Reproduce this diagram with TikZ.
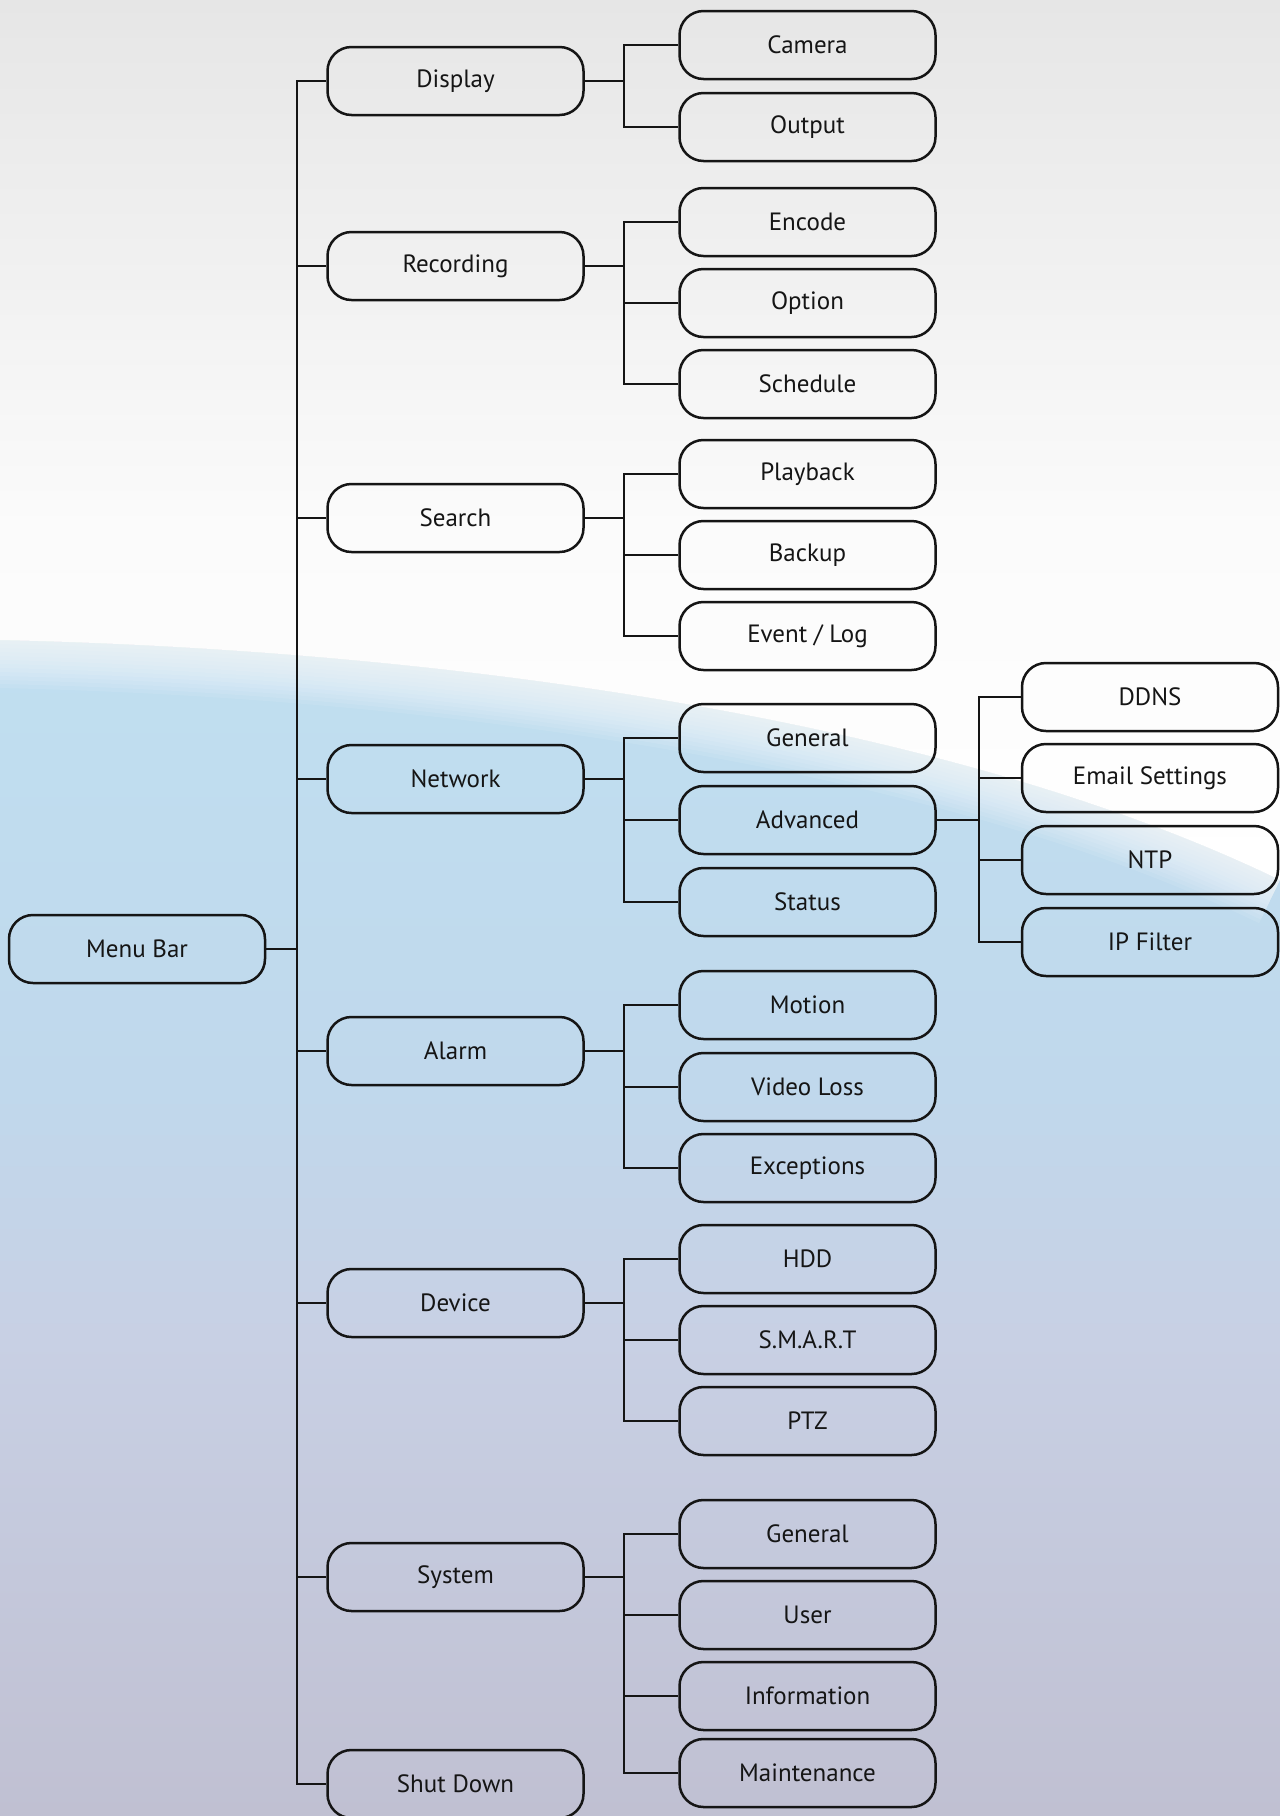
\documentclass[tikz,border=0pt]{standalone}
\usepackage{fontspec}
\setmainfont{PT Sans}

\definecolor{bgtop}{HTML}{E6E6E6}
\definecolor{bgwhite}{HTML}{FBFBFB}
\definecolor{bgblue}{HTML}{C0DFF0}
\definecolor{bgmid}{HTML}{C0D8EC}
\definecolor{bglow}{HTML}{C8D0E4}
\definecolor{bgbot}{HTML}{C0C0D2}
\definecolor{ink}{HTML}{151515}

\pgfdeclareverticalshading{lowershade}{100bp}{color(0bp)=(bgbot); color(25bp)=(bgbot); color(44bp)=(bglow); color(54bp)=(bgmid); color(72bp)=(bgblue); color(100bp)=(bgblue)}
\pgfdeclareverticalshading{uppershade}{100bp}{color(0bp)=(white); color(25bp)=(white); color(45bp)=(bgwhite); color(75bp)=(bgtop); color(100bp)=(bgtop)}

\tikzset{
    menubox/.style={draw=ink, text=ink, line width=2.5pt, rounded corners=24pt,
        minimum width=256pt, minimum height=68pt, inner sep=0pt,
        font=\fontsize{25}{30}\selectfont},
    link/.style={-, draw=ink, line width=2.5pt}
}

\begin{document}
\begin{tikzpicture}[x=1pt,y=-1pt]
\useasboundingbox (0,0) rectangle (1280,1816);

% Background
\shade[shading=lowershade] (0,560) rectangle (1280,1816);
\shade[shading=uppershade] (0,0) -- (1280,0) -- (1280,880)
    .. controls (950,720) and (450,650) .. (0,640) -- cycle;
\foreach \w in {8,16,...,96}
{
    \draw[white, opacity=0.09, line width=\w pt] (1280,880) .. controls (950,720) and (450,650) .. (0,640);
}

% Bus positions
\coordinate (trunk) at (297,0);
\coordinate (bus) at (624,0);
\coordinate (advbus) at (979,0);

%%%%%%%%%%%%%%%%%%%% Root %%%%%%%%%%%%%%%%%%%%
\node[menubox] (menu) at (137,949) {Menu Bar};

%%%%%%%%%%%%%%%%%%%% 1st level %%%%%%%%%%%%%%%%%%%%
\foreach \name/\y/\txt in {disp/81/Display, rec/266/Recording, srch/518/Search,
    net/779/Network, alarm/1051/Alarm, dev/1303/Device, sys/1577/System, shut/1784/Shut Down}
{
    \node[menubox] (\name) at (455.5,\y) {\txt};
}

%%%%%%%%%%%%%%%%%%%% 2nd level %%%%%%%%%%%%%%%%%%%%
\foreach \name/\y/\txt in {cam/45/Camera, out/127/Output,
    enc/222/Encode, opt/303/Option, sched/384/Schedule,
    play/474/Playback, back/555/Backup, evt/636/{Event / Log},
    gen/738/General, adv/820/Advanced, stat/902/Status,
    mot/1005/Motion, vloss/1087/Video Loss, exc/1168/Exceptions,
    hdd/1259/HDD, smart/1340/S.M.A.R.T, ptz/1421/PTZ,
    sgen/1534/General, user/1615/User, info/1696/Information, maint/1773/Maintenance}
{
    \node[menubox] (\name) at (807.5,\y) {\txt};
}

%%%%%%%%%%%%%%%%%%%% 3rd level %%%%%%%%%%%%%%%%%%%%
\foreach \name/\y/\txt in {ddns/697/DDNS, email/778/Email Settings, ntp/860/NTP, ipf/942/IP Filter}
{
    \node[menubox] (\name) at (1150,\y) {\txt};
}

% Draw the tree
\foreach \c in {disp, rec, srch, net, alarm, dev, sys, shut}
{
    \draw[link] (menu.east) -- (menu.east -| trunk) |- (\c.west);
}
\foreach \p/\c in {disp/cam, disp/out, rec/enc, rec/opt, rec/sched,
    srch/play, srch/back, srch/evt, net/gen, net/adv, net/stat,
    alarm/mot, alarm/vloss, alarm/exc, dev/hdd, dev/smart, dev/ptz,
    sys/sgen, sys/user, sys/info, sys/maint}
{
    \draw[link] (\p.east) -- (\p.east -| bus) |- (\c.west);
}
\foreach \c in {ddns, email, ntp, ipf}
{
    \draw[link] (adv.east) -- (adv.east -| advbus) |- (\c.west);
}

\end{tikzpicture}
\end{document}
